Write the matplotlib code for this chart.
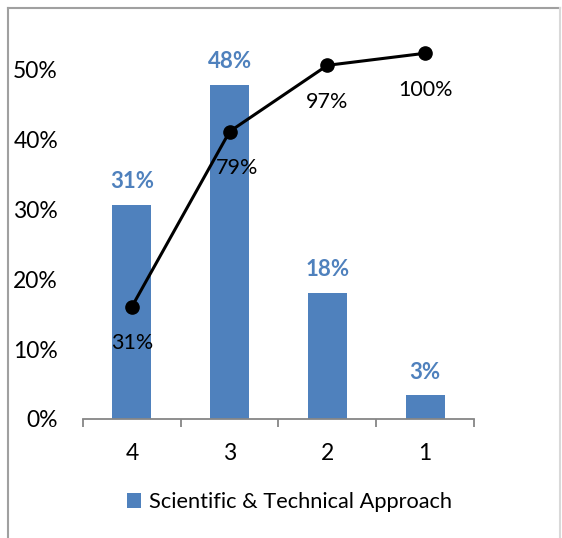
import numpy as np
import matplotlib.pyplot as plt
from matplotlib.ticker import PercentFormatter

categories = ['4', '3', '2', '1']
share = [0.307, 0.479, 0.181, 0.034]
cumulative = [0.307, 0.786, 0.967, 1.0]
series_name = 'Scientific & Technical Approach'

plt.rcParams['font.family'] = ['Lato', 'DejaVu Sans']

blue = '#4F81BD'
grey = '#868686'

fig = plt.figure(figsize=(5.62, 5.38), dpi=100)
ax = fig.add_axes([0.1477, 0.2212, 0.6957, 0.7138])
x = np.arange(len(categories))

bars = ax.bar(x, share, width=0.4, color=blue, label=series_name)
for xi, v in zip(x, share):
    ax.annotate('%d%%' % round(v * 100), (xi, v), xytext=(0, 9),
                textcoords='offset points', ha='center', va='bottom',
                fontsize=16, fontweight='bold', color=blue)

ax.set_xlim(-0.5, len(categories) - 0.5)
ax.set_ylim(0, 0.55)
ax.set_yticks(np.arange(0, 0.51, 0.1))
ax.yaxis.set_major_formatter(PercentFormatter(1.0, decimals=0))
ax.set_xticks(x)
ax.set_xticklabels(categories)
ax.set_xticks(np.arange(-0.5, len(categories)), minor=True)
ax.tick_params(axis='x', which='major', length=0, pad=17, labelsize=16.5)
ax.tick_params(axis='x', which='minor', length=6, width=1.3, color=grey, direction='out')
ax.tick_params(axis='y', length=0, pad=18, labelsize=16.5)
for s in ['top', 'right', 'left']:
    ax.spines[s].set_visible(False)
ax.spines['bottom'].set_color(grey)
ax.spines['bottom'].set_linewidth(1.3)

# cumulative share on a hidden secondary axis
ax2 = ax.twinx()
ax2.set_ylim(0, 1.05)
ax2.plot(x, cumulative, color='black', lw=2.2, marker='o', ms=9.5, zorder=5)
label_dx = [0, 5, 0, 0]
for xi, v, dx in zip(x, cumulative, label_dx):
    ax2.annotate('%d%%' % round(v * 100), (xi, v), xytext=(dx, -19),
                 textcoords='offset points', ha='center', va='top',
                 fontsize=15.5, color='black')
ax2.axis('off')

fig.legend(handles=[bars], labels=[series_name], loc='center',
           bbox_to_anchor=(0.515, 0.067), frameon=False, fontsize=15.7,
           handlelength=0.65, handleheight=0.65, handletextpad=0.35)

# chart area border
for xs, ys, c in [([0.0142, 0.0142], [0, 0.985], '#A0A0A0'),
                  ([0.0142, 0.9965], [0.985, 0.985], '#A0A0A0'),
                  ([0.9965, 0.9965], [0, 0.985], '#D9D9D9')]:
    fig.add_artist(plt.Line2D(xs, ys, color=c, lw=1.5, transform=fig.transFigure))

fig.savefig('out.png', dpi=100)
